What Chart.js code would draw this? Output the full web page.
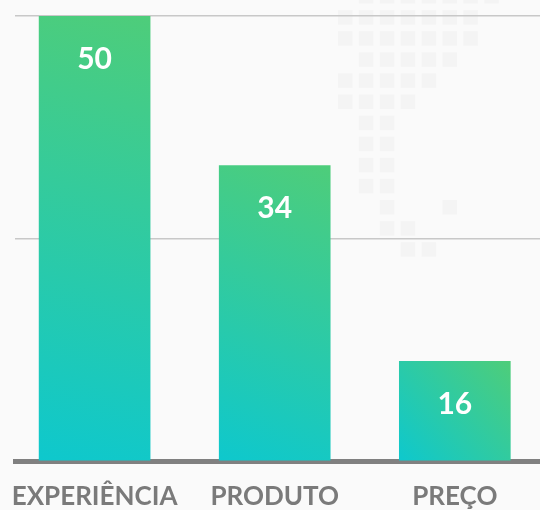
<!DOCTYPE html>
<html>
<head>
<meta charset="utf-8">
<script src="https://cdn.jsdelivr.net/npm/chart.js@4/dist/chart.umd.min.js"></script>
<style>
  html, body { margin: 0; padding: 0; background: #fafafa; }
  #caixa { width: 540px; height: 510px; position: relative; }
</style>
</head>
<body>
<div id="caixa"><canvas id="grafico_motivos"></canvas></div>
<script>
// dados do grafico
const categorias = ['EXPERIÊNCIA', 'PRODUTO', 'PREÇO'];
// altura das barras (nao bate com os numeros escritos)
const valores = [50, 33.2, 11.2];
// numeros escritos dentro das barras
const textos_barras = ['50', '34', '16'];
const marcas_eixo_y = [0, 25, 50];

// mapinha de quadrados no fundo (so enfeite)
const mapa_fundo = [
    '01111111',
    '11111110',
    '11111110',
    '01111100',
    '11111000',
    '11110000',
    '01100000',
    '01100000',
    '01100000',
    '01100000',
    '00100100',
    '00110000',
    '00011000'
];

const fundo = {
    id: 'fundo',
    beforeDraw(chart) {
        const ctx = chart.ctx;
        ctx.save();
        ctx.fillStyle = '#fafafa';
        ctx.fillRect(0, 0, chart.width, chart.height);
        ctx.fillStyle = '#f4f4f4';
        for (let r = 0; r < mapa_fundo.length; r++) {
            for (let c = 0; c < mapa_fundo[r].length; c++) {
                if (mapa_fundo[r][c] === '1') {
                    ctx.fillRect(338 + c * 20.9, -11 + r * 21.1, 14.5, 14.5);
                }
            }
        }
        ctx.restore();
    }
};

// numero branco dentro da barra
const rotulos = {
    id: 'rotulos',
    afterDatasetsDraw(chart) {
        const ctx = chart.ctx;
        const meta = chart.getDatasetMeta(0);
        ctx.save();
        ctx.fillStyle = '#ffffff';
        ctx.font = 'bold 30px Lato';
        ctx.textAlign = 'center';
        ctx.textBaseline = 'middle';
        meta.data.forEach(function (barra, i) {
            ctx.fillText(textos_barras[i], barra.x, barra.y + 43);
        });
        ctx.restore();
    }
};

function gradienteBarra(context) {
    const chart = context.chart;
    const sx = chart.scales.x;
    const sy = chart.scales.y;
    if (!sx || !sy || context.dataIndex === undefined) return '#2ccaa5';
    const cx = sx.getPixelForValue(context.dataIndex);
    const topo = sy.getPixelForValue(valores[context.dataIndex]);
    const base = sy.getPixelForValue(0);
    if (![cx, topo, base].every(isFinite)) return '#2ccaa5';
    const g = chart.ctx.createLinearGradient(cx - 55, base, cx + 55, topo);
    g.addColorStop(0, 'rgb(14, 200, 205)');
    g.addColorStop(1, 'rgb(78, 205, 122)');
    return g;
}

const dados_motivos = {
    datasets: [{
        data: valores.map(function (v, i) { return { x: i, y: v }; }),
        backgroundColor: gradienteBarra,
        borderWidth: 0,
        barThickness: 111
    }]
};

const config_motivos = {
    type: 'bar',
    data: dados_motivos,
    options: {
        responsive: true,
        maintainAspectRatio: false,
        animation: false,
        layout: { padding: { left: 15, top: 16, right: 0, bottom: 0 } },
        plugins: {
            legend: { display: false },
            tooltip: { enabled: false }
        },
        scales: {
            x: {
                type: 'linear',
                min: -0.442,
                max: 2.473,
                offset: false,
                z: 1,
                grid: { display: false, drawTicks: false, offset: false },
                border: { display: true, color: '#808080', width: 5 },
                afterBuildTicks: function (escala) {
                    escala.ticks = categorias.map(function (c, i) { return { value: i }; });
                },
                afterFit: function (escala) {
                    escala.height = 49;
                    escala.paddingLeft = 0;
                    escala.paddingRight = 0;
                },
                ticks: {
                    padding: 20,
                    color: '#7a7a7a',
                    font: { family: 'Lato', weight: 'bold', size: 26 },
                    maxRotation: 0,
                    autoSkip: false,
                    callback: function (valor) { return categorias[valor]; }
                }
            },
            y: {
                min: 0,
                max: 50,
                afterBuildTicks: function (escala) {
                    escala.ticks = marcas_eixo_y.map(function (v) { return { value: v }; });
                },
                afterFit: function (escala) {
                    escala.width = 0;
                    escala.paddingTop = 0;
                    escala.paddingBottom = 0;
                },
                grid: { color: '#c8c8c8', lineWidth: 1.5, drawTicks: false },
                border: { display: false },
                ticks: { display: false }
            }
        }
    },
    plugins: [fundo, rotulos]
};

const grafico_motivos = new Chart(
    document.getElementById('grafico_motivos'),
    config_motivos
);
grafico_motivos.update();
</script>
</body>
</html>
